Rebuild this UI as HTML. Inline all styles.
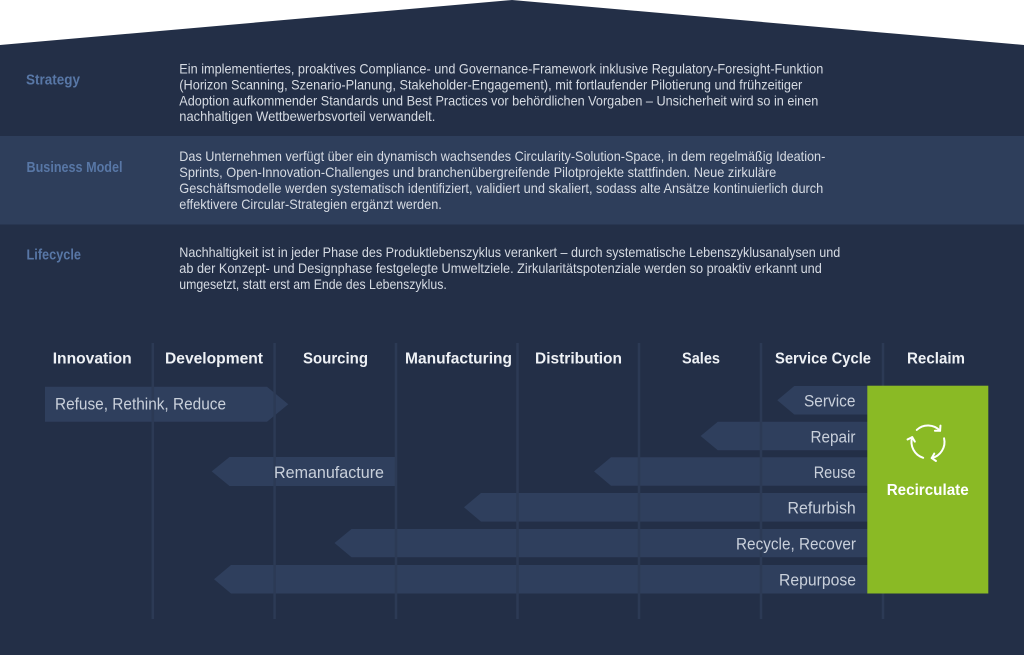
<!DOCTYPE html>
<html>
<head>
<meta charset="utf-8">
<style>
  html,body{margin:0;padding:0;background:#ffffff;}
  svg{display:block;}
  .lbl{font-family:"Liberation Sans",sans-serif;font-weight:bold;font-size:14.5px;fill:#5877a6;}
  .body{font-family:"Liberation Sans",sans-serif;font-size:13.6px;fill:#d6dbe3;}
  .hdr{font-family:"Liberation Sans",sans-serif;font-weight:bold;font-size:16px;fill:#eef1f5;}
  .arr{font-family:"Liberation Sans",sans-serif;font-size:16.5px;fill:#c9d0db;}
  .rec{font-family:"Liberation Sans",sans-serif;font-weight:bold;font-size:15.5px;fill:#ffffff;}
</style>
</head>
<body>
<svg width="1024" height="655" viewBox="0 0 1024 655" xmlns="http://www.w3.org/2000/svg">
  <defs>
    <marker id="ah" markerWidth="10" markerHeight="10" refX="5" refY="5" orient="auto" markerUnits="userSpaceOnUse">
      <path d="M1.5,1.2 L5,5 L1.5,8.8" stroke="#ffffff" stroke-width="2" fill="none" stroke-linecap="round" stroke-linejoin="round"/>
    </marker>
  </defs>

  <!-- house background -->
  <polygon points="0,45 512,0 1024,45 1024,655 0,655" fill="#232f47"/>
  <!-- business model band -->
  <rect x="0" y="136" width="1024" height="88.5" fill="#2e3e5b"/>

  <!-- Strategy -->
  <text class="lbl" x="26" y="84.3" textLength="54" lengthAdjust="spacingAndGlyphs">Strategy</text>
  <text class="body" x="179.3" y="73.5" textLength="644" lengthAdjust="spacingAndGlyphs">Ein implementiertes, proaktives Compliance- und Governance-Framework inklusive Regulatory-Foresight-Funktion</text>
  <text class="body" x="179.3" y="89.5" textLength="623" lengthAdjust="spacingAndGlyphs">(Horizon Scanning, Szenario-Planung, Stakeholder-Engagement), mit fortlaufender Pilotierung und frühzeitiger</text>
  <text class="body" x="179.3" y="105.3" textLength="639" lengthAdjust="spacingAndGlyphs">Adoption aufkommender Standards und Best Practices vor behördlichen Vorgaben – Unsicherheit wird so in einen</text>
  <text class="body" x="179.3" y="121.2" textLength="256" lengthAdjust="spacingAndGlyphs">nachhaltigen Wettbewerbsvorteil verwandelt.</text>

  <!-- Business Model -->
  <text class="lbl" x="26.5" y="172" textLength="96" lengthAdjust="spacingAndGlyphs">Business Model</text>
  <text class="body" x="179.3" y="161.2" textLength="646" lengthAdjust="spacingAndGlyphs">Das Unternehmen verfügt über ein dynamisch wachsendes Circularity-Solution-Space, in dem regelmäßig Ideation-</text>
  <text class="body" x="179.3" y="177.2" textLength="597" lengthAdjust="spacingAndGlyphs">Sprints, Open-Innovation-Challenges und branchenübergreifende Pilotprojekte stattfinden. Neue zirkuläre</text>
  <text class="body" x="179.3" y="192.8" textLength="644" lengthAdjust="spacingAndGlyphs">Geschäftsmodelle werden systematisch identifiziert, validiert und skaliert, sodass alte Ansätze kontinuierlich durch</text>
  <text class="body" x="179.3" y="208.8" textLength="262.5" lengthAdjust="spacingAndGlyphs">effektivere Circular-Strategien ergänzt werden.</text>

  <!-- Lifecycle -->
  <text class="lbl" x="26.5" y="259.5" textLength="54.5" lengthAdjust="spacingAndGlyphs">Lifecycle</text>
  <text class="body" x="179.3" y="256.8" textLength="661" lengthAdjust="spacingAndGlyphs">Nachhaltigkeit ist in jeder Phase des Produktlebenszyklus verankert – durch systematische Lebenszyklusanalysen und</text>
  <text class="body" x="179.3" y="272.8" textLength="642.5" lengthAdjust="spacingAndGlyphs">ab der Konzept- und Designphase festgelegte Umweltziele. Zirkularitätspotenziale werden so proaktiv erkannt und</text>
  <text class="body" x="179.3" y="288.8" textLength="267.5" lengthAdjust="spacingAndGlyphs">umgesetzt, statt erst am Ende des Lebenszyklus.</text>

  <!-- column headers -->
  <text class="hdr" x="52.7" y="363.3" textLength="79" lengthAdjust="spacingAndGlyphs">Innovation</text>
  <text class="hdr" x="165" y="363.3" textLength="98" lengthAdjust="spacingAndGlyphs">Development</text>
  <text class="hdr" x="303" y="363.3" textLength="65" lengthAdjust="spacingAndGlyphs">Sourcing</text>
  <text class="hdr" x="405" y="363.3" textLength="107" lengthAdjust="spacingAndGlyphs">Manufacturing</text>
  <text class="hdr" x="535" y="363.3" textLength="87" lengthAdjust="spacingAndGlyphs">Distribution</text>
  <text class="hdr" x="682" y="363.3" textLength="38" lengthAdjust="spacingAndGlyphs">Sales</text>
  <text class="hdr" x="775" y="363.3" textLength="96" lengthAdjust="spacingAndGlyphs">Service Cycle</text>
  <text class="hdr" x="907" y="363.3" textLength="58" lengthAdjust="spacingAndGlyphs">Reclaim</text>

  <!-- arrows -->
  <g fill="#2f3f5d">
    <polygon points="45,386.8 267,386.8 288.3,404.3 267,421.8 45,421.8"/>
    <polygon points="777.3,400.2 794.3,386 870,386 870,414.5 794.3,414.5"/>
    <polygon points="700.6,436 717.8,421.8 870,421.8 870,450.2 717.8,450.2"/>
    <polygon points="594,471.4 611,457.2 870,457.2 870,485.8 611,485.8"/>
    <polygon points="211.7,471.4 229.5,457 396,457 396,486 229.5,486"/>
    <polygon points="464,507.3 481,493 870,493 870,521.6 481,521.6"/>
    <polygon points="334.5,543 351.5,529 870,529 870,557.2 351.5,557.2"/>
    <polygon points="214,579.2 231,565 870,565 870,593.5 231,593.5"/>
  </g>

  <!-- vertical column lines (drawn over arrows) -->
  <g stroke="#2c3a55" stroke-width="2.5">
    <line x1="152.8" y1="343" x2="152.8" y2="619"/>
    <line x1="274.6" y1="343" x2="274.6" y2="619"/>
    <line x1="396" y1="343" x2="396" y2="619"/>
    <line x1="517.5" y1="343" x2="517.5" y2="619"/>
    <line x1="639" y1="343" x2="639" y2="619"/>
    <line x1="761" y1="343" x2="761" y2="619"/>
    <line x1="883" y1="343" x2="883" y2="619"/>
  </g>

  <!-- arrow labels -->
  <text class="arr" x="55" y="409.3" textLength="171" lengthAdjust="spacingAndGlyphs">Refuse, Rethink, Reduce</text>
  <text class="arr" x="274" y="477.8" textLength="110" lengthAdjust="spacingAndGlyphs">Remanufacture</text>
  <text class="arr" x="804" y="406.6" textLength="51.5" lengthAdjust="spacingAndGlyphs">Service</text>
  <text class="arr" x="810.5" y="442.4" textLength="45" lengthAdjust="spacingAndGlyphs">Repair</text>
  <text class="arr" x="813.7" y="477.8" textLength="42" lengthAdjust="spacingAndGlyphs">Reuse</text>
  <text class="arr" x="787.5" y="513.5" textLength="68.3" lengthAdjust="spacingAndGlyphs">Refurbish</text>
  <text class="arr" x="736" y="549.4" textLength="120" lengthAdjust="spacingAndGlyphs">Recycle, Recover</text>
  <text class="arr" x="779" y="585.4" textLength="77" lengthAdjust="spacingAndGlyphs">Repurpose</text>

  <!-- green Recirculate box -->
  <rect x="867.3" y="385.7" width="121" height="207.8" fill="#8aba25"/>
  <g stroke="#ffffff" stroke-width="2" fill="none" stroke-linecap="round">
    <path d="M916.75,429.94 A16.5,16.5 0 0 1 940.07,430.75" marker-end="url(#ah)"/>
    <path d="M944.07,438.29 A16.5,16.5 0 0 1 931.71,458.08" marker-end="url(#ah)"/>
    <path d="M923.18,457.78 A16.5,16.5 0 0 1 912.22,437.18" marker-end="url(#ah)"/>
  </g>
  <text class="rec" x="886.7" y="495" textLength="82" lengthAdjust="spacingAndGlyphs">Recirculate</text>
</svg>
</body>
</html>
